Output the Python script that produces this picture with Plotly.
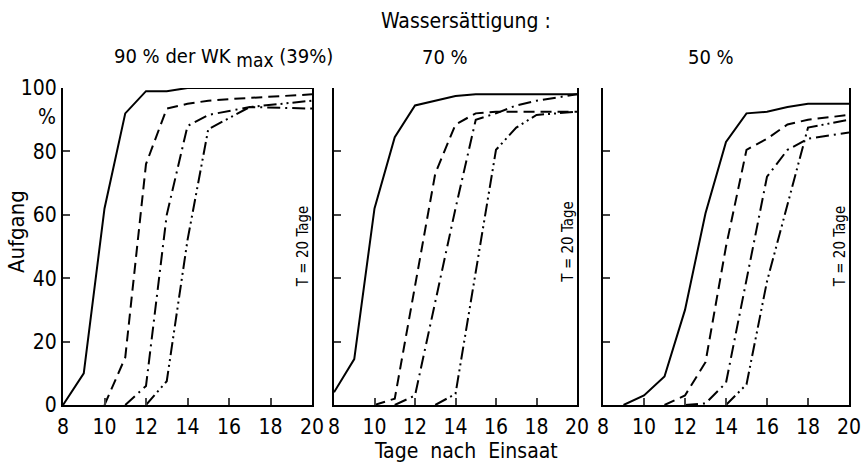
import plotly.graph_objects as go

# Panel 1: 90 % der WKmax
p1_solid_x = [8, 9, 10, 11, 12, 13, 14, 20]
p1_solid_y = [0, 10, 62, 92, 99, 99, 100, 100]
p1_dash_x = [10, 11, 12, 13, 14, 15, 16, 20]
p1_dash_y = [0, 15, 76, 93.5, 95, 96, 96.5, 98]
p1_dd_x = [11, 12, 13, 14, 15, 17, 20]
p1_dd_y = [0, 6, 60, 88, 91.5, 94, 93.5]
p1_ddd_x = [12, 13, 14, 15, 17, 20]
p1_ddd_y = [0, 7.5, 52, 87, 94, 96]

# Panel 2: 70 %
p2_solid_x = [8, 9, 10, 11, 12, 14, 15, 20]
p2_solid_y = [4, 14.5, 62, 84.5, 94.5, 97.5, 98, 98]
p2_dash_x = [10, 11, 13, 14, 15, 16, 20]
p2_dash_y = [0, 2, 73, 88.5, 92, 92.5, 92.5]
p2_dd_x = [11, 12, 14, 15, 16, 17, 18, 20]
p2_dd_y = [0, 3, 62, 90, 92, 94.5, 96, 98]
p2_ddd_x = [13, 14, 16, 17, 18, 20]
p2_ddd_y = [0, 3.5, 80.5, 87.5, 91.5, 92.5]

# Panel 3: 50 %
p3_solid_x = [9, 10, 11, 12, 13, 14, 15, 16, 17, 18, 20]
p3_solid_y = [0, 3, 9, 30, 60.5, 83, 92, 92.5, 94, 95, 95]
p3_dash_x = [11, 12, 13, 14, 15, 16, 17, 18, 20]
p3_dash_y = [0, 3, 13.5, 50, 80.5, 84, 88.5, 90, 91.5]
p3_dd_x = [12, 13, 14, 16, 17, 18, 20]
p3_dd_y = [0, 0.5, 7, 72, 80.5, 84, 86]
p3_ddd_x = [14, 15, 16, 18, 20]
p3_ddd_y = [0, 6.5, 39, 87.5, 90]

x_ticks = [8, 10, 12, 14, 16, 18, 20]
y_ticks = [0, 20, 40, 60, 80, 100]
panel_titles = ["90 % der WK <sub><span style='font-size:19px'>max</span></sub> (39%)",
                "70 %", "50 %"]
t_label_y = [50, 51.5, 50]

styles = ["solid", "11px,6px", "13px,5px,2px,5px", "13px,4px,2px,4px,2px,4px"]

panels = [
    [(p1_solid_x, p1_solid_y), (p1_dash_x, p1_dash_y), (p1_dd_x, p1_dd_y), (p1_ddd_x, p1_ddd_y)],
    [(p2_solid_x, p2_solid_y), (p2_dash_x, p2_dash_y), (p2_dd_x, p2_dd_y), (p2_ddd_x, p2_ddd_y)],
    [(p3_solid_x, p3_solid_y), (p3_dash_x, p3_dash_y), (p3_dd_x, p3_dd_y), (p3_ddd_x, p3_ddd_y)],
]

W, H = 863, 466
x_px = [(63, 312), (334, 577), (603, 849)]
y_dom = [(466 - 405) / H, (466 - 88) / H]

FONT = "DejaVu Sans Condensed, Liberation Sans Narrow, DejaVu Sans, sans-serif"
fig = go.Figure()


def ann(text, x, y, size, xref="paper", yref="paper", angle=0):
    fig.add_annotation(text=text, xref=xref, yref=yref, x=x, y=y,
                       xanchor="center", yanchor="middle", textangle=angle,
                       showarrow=False,
                       font=dict(family=FONT, size=size, color="black"))


for i, series in enumerate(panels):
    xa = "x" if i == 0 else f"x{i+1}"
    ya = "y" if i == 0 else f"y{i+1}"
    for (xs, ys), dash in zip(series, styles):
        fig.add_trace(go.Scatter(x=xs, y=ys, mode="lines", xaxis=xa, yaxis=ya,
                                 line=dict(color="black", width=2, dash=dash),
                                 showlegend=False, hoverinfo="skip"))
    xkey = "xaxis" if i == 0 else f"xaxis{i+1}"
    ykey = "yaxis" if i == 0 else f"yaxis{i+1}"
    fig.update_layout({
        xkey: dict(domain=[x_px[i][0] / W, x_px[i][1] / W], range=[8, 20],
                   anchor=ya, tickvals=x_ticks, ticks="inside", ticklen=7,
                   tickwidth=2, showline=True, linewidth=2, linecolor="black",
                   showgrid=False, zeroline=False, automargin=False,
                   ticklabelstandoff=2,
                   tickfont=dict(family=FONT, size=21, color="black")),
        ykey: dict(domain=y_dom, range=[0, 100], anchor=xa, tickvals=y_ticks,
                   ticks="inside", ticklen=7, tickwidth=2, showline=True,
                   linewidth=2, linecolor="black", mirror=True, automargin=False,
                   showgrid=False, zeroline=False, showticklabels=(i == 0),
                   tickfont=dict(family=FONT, size=21, color="black")),
    })
    ann("T = 20 Tage", 19.55, t_label_y[i], 15, xref=xa, yref=ya, angle=-90)

# panel titles
title_x = [224, 445, 711]
for t, xc in zip(panel_titles, title_x):
    ann(t, xc / W, 1 - 57 / H, 20)

ann("Wassersättigung :", 466 / W, 1 - 21 / H, 21)
ann("Tage&nbsp; nach&nbsp; Einsaat", 466 / W, 1 - 451 / H, 21)
ann("Aufgang", 16 / W, 1 - 232 / H, 22, angle=-90)
ann("%", 47 / W, 91, 21, yref="y")

fig.update_layout(width=W, height=H, margin=dict(l=0, r=0, t=0, b=0),
                  plot_bgcolor="white", paper_bgcolor="white")

fig.write_html("out.html")
